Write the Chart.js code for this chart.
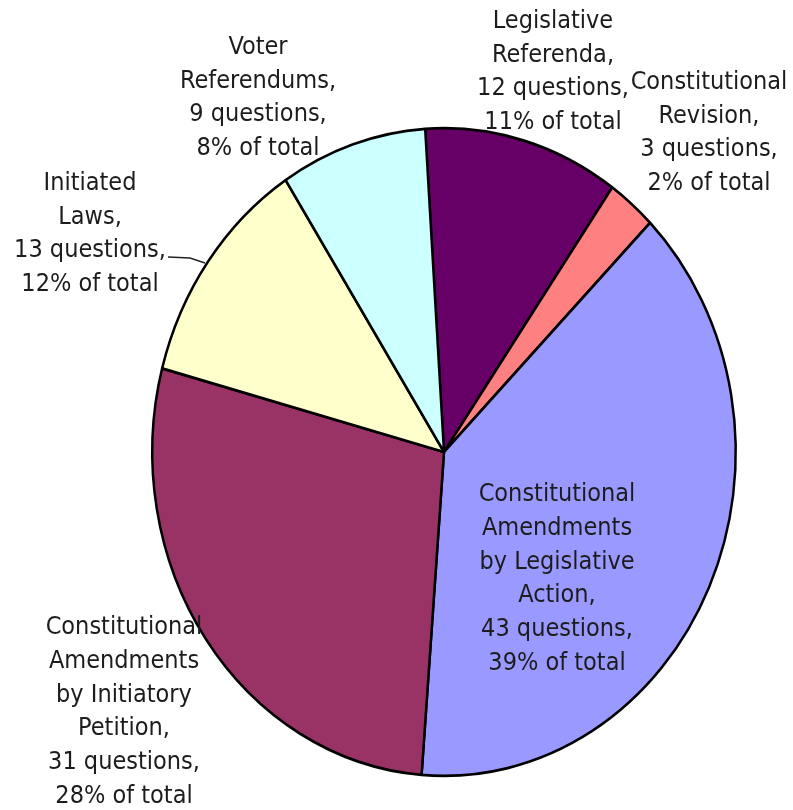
<!DOCTYPE html>
<html>
<head>
<meta charset="utf-8">
<script src="https://cdn.jsdelivr.net/npm/chart.js@4"></script>
<style>
  html, body { margin: 0; padding: 0; background: #fff; }
  canvas { display: block; }
</style>
</head>
<body>
<canvas id="pieChart" width="793" height="810"></canvas>
<script>
// Ballot questions by type
const categories = [
  ['Legislative', 'Referenda,'],
  ['Constitutional', 'Revision,'],
  ['Constitutional', 'Amendments', 'by Legislative', 'Action,'],
  ['Constitutional', 'Amendments', 'by Initiatory', 'Petition,'],
  ['Initiated', 'Laws,'],
  ['Voter', 'Referendums,']
];
const questions = [12, 3, 43, 31, 13, 9];
const percentLabels = ['11%', '2%', '39%', '28%', '12%', '8%'];
const sliceColors = ['#660066', '#FF8080', '#9999FF', '#993366', '#FFFFCC', '#CCFFFF'];

// label block centres, offset from the pie centre (layout only)
const labelOffsets = [[109, -380], [265, -319], [113, 127], [-320, 260], [-354, -218], [-186, -354]];
const stretchY = 1.11;   // the original pie is a bit taller than wide
const lineHeight = 33.7;

function pieCentre(chart) {
  const arc = chart.getDatasetMeta(0).data[0];
  return { x: arc.x, y: arc.y };
}

const stretchPlugin = {
  id: 'stretch',
  beforeDatasetsDraw(chart) {
    const c = pieCentre(chart);
    const ctx = chart.ctx;
    ctx.save();
    ctx.translate(c.x, c.y);
    ctx.scale(1, stretchY);
    ctx.translate(-c.x, -c.y);
  },
  afterDatasetsDraw(chart) {
    chart.ctx.restore();
  }
};

const labelPlugin = {
  id: 'sliceLabels',
  afterDraw(chart) {
    const ctx = chart.ctx;
    const c = pieCentre(chart);
    ctx.save();
    ctx.font = '25px "DejaVu Sans Condensed", "DejaVu Sans", sans-serif';
    ctx.fillStyle = '#1c1c1c';
    ctx.textAlign = 'center';
    ctx.textBaseline = 'middle';
    categories.forEach((cat, i) => {
      const lines = cat.concat([questions[i] + ' questions,', percentLabels[i] + ' of total']);
      const bx = c.x + labelOffsets[i][0];
      const by = c.y + labelOffsets[i][1];
      const top = by - (lines.length - 1) * lineHeight / 2;
      lines.forEach((ln, j) => ctx.fillText(ln, bx, top + j * lineHeight));
    });
    // leader line for Initiated Laws
    ctx.strokeStyle = '#222';
    ctx.lineWidth = 1.5;
    ctx.beginPath();
    ctx.moveTo(c.x - 276, c.y - 195);
    ctx.lineTo(c.x - 254, c.y - 194);
    ctx.lineTo(c.x - 239, c.y - 189);
    ctx.stroke();
    ctx.restore();
  }
};

const ctx = document.getElementById('pieChart').getContext('2d');
const pieChart = new Chart(ctx, {
  type: 'pie',
  data: {
    labels: categories.map(c => c.join(' ')),
    datasets: [{
      data: questions,
      backgroundColor: sliceColors,
      borderColor: '#000',
      borderWidth: 2.5,
      clip: false
    }]
  },
  options: {
    responsive: false,
    animation: false,
    rotation: -3.7,
    layout: {
      padding: { left: 151, right: 56, top: 159, bottom: 65 }
    },
    plugins: {
      legend: { display: false },
      tooltip: { enabled: false }
    }
  },
  plugins: [stretchPlugin, labelPlugin]
});
</script>
</body>
</html>
